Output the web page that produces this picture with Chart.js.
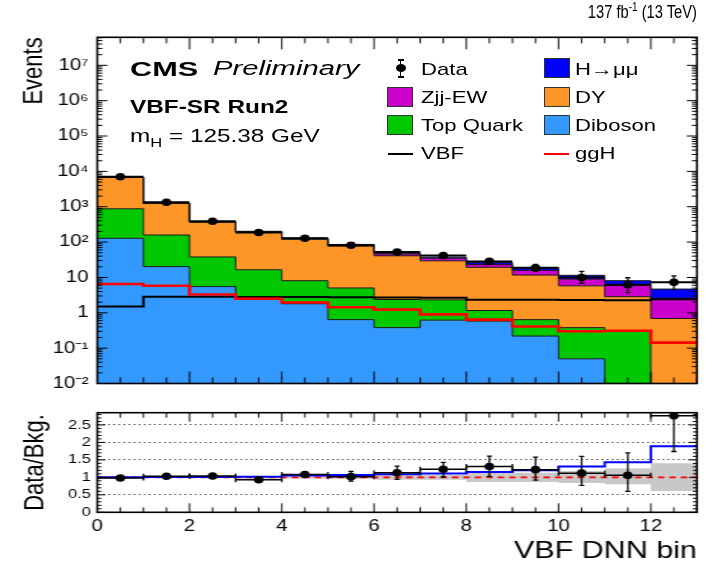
<!DOCTYPE html>
<html lang="en">
<head>
  <meta charset="UTF-8">
  <title>VBF-SR Run2 - VBF DNN bin</title>
  <script src="https://cdn.jsdelivr.net/npm/chart.js"></script>
  <style>
    body {
      margin: 0;
      width: 712px;
      height: 567px;
      overflow: hidden;
      position: relative;
      background: #fff;
      font-family: 'Liberation Sans', Arial, sans-serif;
    }
    /* the reference is drawn wide, so the charts are drawn narrow and stretched */
    #stretch {
      position: absolute;
      left: 0;
      top: 0;
      width: 560px;
      height: 567px;
      transform: scaleX(1.2714);
      transform-origin: 0 0;
    }
    #stretch canvas { position: absolute; left: 0; }
    .t {
      position: absolute;
      white-space: nowrap;
      line-height: 1;
      color: #000;
      transform-origin: 0 0;
    }
    .box {
      position: absolute;
      width: 26px;
      height: 20px;
      border: 1px solid #333;
      box-sizing: border-box;
    }
    .ln { position: absolute; height: 2px; width: 25px; }
    sup, sub { font-size: 0.68em; line-height: 0; }
  </style>
</head>
<body>
  <div id="stretch">
    <canvas id="mainChart" width="560" height="400" style="top:0;width:560px;height:400px"></canvas>
    <canvas id="ratioChart" width="560" height="167" style="top:400px;width:560px;height:167px"></canvas>
  </div>

  <div class="t" style="right:15px;top:3.5px;font-size:17.5px;transform:scaleX(0.84);transform-origin:100% 0">137 fb<sup>-1</sup> (13 TeV)</div>
  <div class="t" style="left:130px;top:57.9px;font-size:21px;font-weight:bold;transform:scaleX(1.46)">CMS</div>
  <div class="t" style="left:212.7px;top:59.2px;font-size:19.5px;font-style:italic;transform:scaleX(1.5)">Preliminary</div>
  <div class="t" style="left:130px;top:98.3px;font-size:18.6px;font-weight:bold;transform:scaleX(1.31)">VBF-SR Run2</div>
  <div class="t" style="left:130px;top:125.6px;font-size:19px;transform:scaleX(1.28)">m<sub>H</sub> = 125.38 GeV</div>

  <!-- legend -->
  <div style="position:absolute;left:400px;top:59.3px;width:1.3px;height:18px;background:#000"></div>
  <div style="position:absolute;left:397.6px;top:59.3px;width:6px;height:1.3px;background:#000"></div>
  <div style="position:absolute;left:397.6px;top:76.3px;width:6px;height:1.3px;background:#000"></div>
  <div style="position:absolute;left:395.7px;top:64.3px;width:10px;height:8px;border-radius:50%;background:#000"></div>
  <div class="t" style="left:420.7px;top:60.6px;font-size:17px;transform:scaleX(1.3)">Data</div>

  <div class="box" style="left:544.3px;top:58.3px;background:#0000ff"></div>
  <div class="t" style="left:575px;top:60.6px;font-size:17px;transform:scaleX(1.3)">H→μμ</div>

  <div class="box" style="left:387.3px;top:86.7px;background:#cc00cc"></div>
  <div class="t" style="left:420.7px;top:88.6px;font-size:17px;transform:scaleX(1.3)">Zjj-EW</div>

  <div class="box" style="left:544.3px;top:86.7px;background:#fd9627"></div>
  <div class="t" style="left:575px;top:88.6px;font-size:17px;transform:scaleX(1.3)">DY</div>

  <div class="box" style="left:387.3px;top:115px;background:#00c800"></div>
  <div class="t" style="left:420.7px;top:116.6px;font-size:17px;transform:scaleX(1.3)">Top Quark</div>

  <div class="box" style="left:544.3px;top:115px;background:#3399ff"></div>
  <div class="t" style="left:575px;top:116.6px;font-size:17px;transform:scaleX(1.3)">Diboson</div>

  <div class="ln" style="left:388px;top:152.5px;background:#000"></div>
  <div class="t" style="left:420.7px;top:144.6px;font-size:17px;transform:scaleX(1.3)">VBF</div>

  <div class="ln" style="left:544.3px;top:152.5px;background:#ff0000"></div>
  <div class="t" style="left:575px;top:144.6px;font-size:17px;transform:scaleX(1.3)">ggH</div>

  <script>
    // bins of the DNN score
    const binEdges = [0, 1, 2, 3, 4, 5, 6, 7, 8, 9, 10, 11, 12, 13];
    const binCentres = [0.5, 1.5, 2.5, 3.5, 4.5, 5.5, 6.5, 7.5, 8.5, 9.5, 10.5, 11.5, 12.5];

    // stacked backgrounds + signal, events per bin (bottom to top)
    const diboson  = [128, 20.3, 5.5, 2.7, 1.8, 0.64, 0.38, 0.62, 0.58, 0.22, 0.05, 0, 0];
    const topQuark = [747, 138, 32.5, 13.8, 6.3, 4.4, 2.0, 1.7, 0.58, 0.42, 0.33, 0.31, 0];
    const drellYan = [5925, 1072, 325, 174, 112, 72, 38.6, 27.2, 18.2, 11.0, 5.4, 2.54, 0.69];
    const zjjEW    = [40, 15, 8, 6, 5, 4.5, 5.5, 5.5, 3.8, 4.2, 3.2, 3.05, 1.9];
    const hmumu    = [8, 8.6, 6, 5.3, 4.6, 4.2, 2.0, 2.5, 3.0, 2.7, 2.5, 2.2, 2.1];

    // signal shapes drawn as lines
    const vbfSignal = [1.5, 2.85, 2.85, 2.8, 2.78, 2.75, 2.72, 2.68, 2.35, 2.35, 2.3, 2.26, 2.4];
    const gghSignal = [6.5, 5.8, 3.3, 2.5, 1.95, 1.43, 1.23, 0.9, 0.64, 0.41, 0.30, 0.31, 0.143];

    // observed data
    const dataEvents = [7080, 1340, 390, 186, 128, 81, 52, 41.5, 28.4, 18.7, 10.0, 6.2, 7.3];
    const dataLow    = [6990, 1300, 370, 172, 117, 72, 45, 35, 23.5, 14.8, 6.9, 3.7, 4.5];
    const dataHigh   = [7170, 1380, 410, 200, 139, 90, 59, 48, 34, 23.2, 14.9, 9.8, 11];

    // ratio panel
    const ratioData   = [0.98, 1.03, 1.04, 0.93, 1.08, 1.02, 1.13, 1.23, 1.31, 1.22, 1.12, 1.06, 2.76];
    const ratioLow    = [0.96, 1.01, 1.01, 0.90, 1.04, 0.89, 0.94, 1.01, 1.03, 0.92, 0.77, 0.60, 1.74];
    const ratioHigh   = [1.00, 1.05, 1.07, 0.96, 1.12, 1.17, 1.32, 1.43, 1.61, 1.58, 1.60, 1.70, 3.80];
    const ratioSignal = [1.00, 1.01, 1.01, 1.02, 1.05, 1.07, 1.09, 1.11, 1.15, 1.20, 1.31, 1.43, 1.89];
    const bandLow     = [0.98, 0.98, 0.98, 0.97, 0.97, 0.96, 0.93, 0.93, 0.87, 0.87, 0.84, 0.80, 0.61];
    const bandHigh    = [1.02, 1.02, 1.02, 1.03, 1.03, 1.04, 1.07, 1.07, 1.13, 1.13, 1.18, 1.25, 1.40];
    const unity = 1;

    // tick labels
    const yTickValues = [1e-2, 1e-1, 1, 10, 1e2, 1e3, 1e4, 1e5, 1e6, 1e7];
    const yTickLabels = ['10⁻²', '10⁻¹', '1', '10', '10²', '10³', '10⁴', '10⁵', '10⁶', '10⁷'];
    const xTickValues = [0, 2, 4, 6, 8, 10, 12];
    const xTickLabels = ['0', '2', '4', '6', '8', '10', '12'];
    const ratioTickValues = [0, 0.5, 1, 1.5, 2, 2.5];
    const ratioTickLabels = ['0', '0.5', '1', '1.5', '2', '2.5'];

    const colours = {
      diboson: '#3399ff',
      top: '#00c800',
      dy: '#fd9627',
      zjj: '#cc00cc',
      hmm: '#0000ff'
    };

    // empty bins cannot sit on a log axis, so they are drawn just under its bottom
    const logFloor = 1e-3;

    Chart.defaults.font.family = "'Liberation Sans', Arial, sans-serif";
    Chart.defaults.color = '#000';

    const stepPoints = vals => binEdges.map((x, i) => ({x, y: vals[Math.min(i, vals.length - 1)]}));
    const centrePoints = vals => binCentres.map((x, i) => ({x, y: vals[i]}));
    const addLayer = (a, b) => a.map((v, i) => v + b[i]);

    const cumTop = addLayer(diboson, topQuark);
    const cumDY = addLayer(cumTop, drellYan);
    const cumZjj = addLayer(cumDY, zjjEW);
    const cumH = addLayer(cumZjj, hmumu);

    function layer(label, vals, fill, colour, order) {
      return {
        label, fill, order,
        data: stepPoints(vals.map(v => Math.max(v, logFloor))),
        backgroundColor: colour, borderColor: '#1a1a1a', borderWidth: 1,
        stepped: true, pointRadius: 0
      };
    }

    // frame and ROOT style inward ticks on all four sides
    function frameTicks(opts) {
      return {
        id: 'frameTicks',
        afterDraw(chart) {
          const {ctx, chartArea: a, scales: {x, y}} = chart;
          ctx.save();
          ctx.strokeStyle = '#000';
          ctx.lineWidth = 1;
          ctx.beginPath();
          for (let v = 0; v <= 13; v += 0.5) {
            const px = x.getPixelForValue(v);
            const len = v % 2 === 0 ? opts.xMajor : opts.xMinor;
            ctx.moveTo(px, a.bottom); ctx.lineTo(px, a.bottom - len);
            ctx.moveTo(px, a.top); ctx.lineTo(px, a.top + len);
          }
          opts.yTicks.forEach(([v, major]) => {
            if (v < y.min || v > y.max) return;
            const py = y.getPixelForValue(v);
            const len = major ? opts.yMajor : opts.yMinor;
            ctx.moveTo(a.left, py); ctx.lineTo(a.left + len, py);
            ctx.moveTo(a.right, py); ctx.lineTo(a.right - len, py);
          });
          ctx.stroke();
          ctx.lineWidth = 1.6;
          ctx.strokeRect(a.left, a.top, a.right - a.left, a.bottom - a.top);
          ctx.restore();
        }
      };
    }

    function errorBars(vals, lo, hi, opts) {
      return {
        id: 'errorBars',
        afterDatasetsDraw(chart) {
          const {ctx, chartArea: a, scales: {x, y}} = chart;
          ctx.save();
          ctx.beginPath();
          ctx.rect(a.left, a.top, a.right - a.left, a.bottom - a.top);
          ctx.clip();
          ctx.strokeStyle = '#000';
          binCentres.forEach((c, i) => {
            const px = x.getPixelForValue(c);
            const x0 = x.getPixelForValue(binEdges[i]);
            const x1 = x.getPixelForValue(binEdges[i + 1]);
            const py = y.getPixelForValue(vals[i]);
            const pLo = y.getPixelForValue(lo[i]);
            const pHi = y.getPixelForValue(hi[i]);
            ctx.lineWidth = opts.xWidth;
            ctx.beginPath();
            ctx.moveTo(x0, py); ctx.lineTo(x1, py);
            ctx.stroke();
            ctx.lineWidth = opts.yWidth;
            ctx.beginPath();
            ctx.moveTo(px, pLo); ctx.lineTo(px, pHi);
            ctx.moveTo(px - opts.cap, pLo); ctx.lineTo(px + opts.cap, pLo);
            ctx.moveTo(px - opts.cap, pHi); ctx.lineTo(px + opts.cap, pHi);
            if (opts.xCap) {
              ctx.moveTo(x0, py - opts.xCap); ctx.lineTo(x0, py + opts.xCap);
              ctx.moveTo(x1, py - opts.xCap); ctx.lineTo(x1, py + opts.xCap);
            }
            ctx.stroke();
          });
          ctx.restore();
        }
      };
    }

    const logTicks = [];
    for (let e = -2; e <= 7; e++) {
      for (let k = 1; k <= 9; k++) logTicks.push([k * Math.pow(10, e), k === 1]);
    }
    const linTicks = [];
    for (let i = 0; i <= 28; i++) linTicks.push([i / 10, i % 5 === 0]);

    const noGrid = {display: false, drawTicks: false, tickLength: 0};

    new Chart(document.getElementById('mainChart'), {
      type: 'line',
      data: {
        datasets: [
          layer('Diboson', diboson, 'start', colours.diboson, 7),
          layer('Top Quark', cumTop, '-1', colours.top, 6),
          layer('DY', cumDY, '-1', colours.dy, 5),
          layer('Zjj-EW', cumZjj, '-1', colours.zjj, 4),
          layer('H→μμ', cumH, '-1', colours.hmm, 3),
          {label: 'VBF', data: stepPoints(vbfSignal), fill: false, stepped: true, pointRadius: 0,
           borderColor: '#000', borderWidth: 2, order: 2},
          {label: 'ggH', data: stepPoints(gghSignal), fill: false, stepped: true, pointRadius: 0,
           borderColor: '#ff0000', borderWidth: 2.6, order: 1},
          {label: 'Data', data: centrePoints(dataEvents), showLine: false, pointRadius: 3.8,
           pointBackgroundColor: '#000', pointBorderWidth: 0, order: 0, clip: 6}
        ]
      },
      options: {
        responsive: false,
        animation: false,
        devicePixelRatio: 1,
        layout: {padding: {top: 37.3, right: 11.8, left: 0, bottom: 0}},
        plugins: {
          legend: {display: false},
          tooltip: {enabled: false},
          filler: {drawTime: 'beforeDatasetsDraw'}
        },
        scales: {
          x: {
            type: 'linear', min: 0, max: 13, offset: false,
            grid: noGrid, border: {display: false},
            ticks: {display: false},
            afterFit: s => { s.height = 3.3; }
          },
          y: {
            type: 'logarithmic', min: 0.01, max: 6.2e7,
            grid: noGrid, border: {display: false},
            afterBuildTicks: s => { s.ticks = yTickValues.map(value => ({value})); },
            ticks: {font: {size: 16}, padding: 6.9, autoSkip: false,
                    callback: (v, i) => yTickLabels[i]},
            title: {display: true, text: 'Events', align: 'end', font: {size: 22},
                    padding: {top: 13.5, bottom: 0}},
            afterFit: s => { s.width = 76.5; }
          }
        }
      },
      plugins: [
        frameTicks({xMajor: 12, xMinor: 6, yMajor: 8, yMinor: 4, yTicks: logTicks}),
        errorBars(dataEvents, dataLow, dataHigh, {xWidth: 2, yWidth: 1.3, cap: 2, xCap: 0})
      ]
    });

    new Chart(document.getElementById('ratioChart'), {
      type: 'line',
      data: {
        datasets: [
          {label: 'band low', data: stepPoints(bandLow), fill: false, stepped: true, pointRadius: 0,
           borderWidth: 0, borderColor: 'rgba(0,0,0,0)', order: 4},
          {label: 'Bkg. unc.', data: stepPoints(bandHigh), fill: '-1', stepped: true, pointRadius: 0,
           backgroundColor: '#c8c8c8', borderWidth: 0, borderColor: 'rgba(0,0,0,0)', order: 3},
          {label: 'unity', data: stepPoints(binEdges.map(() => unity)), fill: false, stepped: true,
           pointRadius: 0, borderColor: '#ff0000', borderWidth: 1.6, borderDash: [5, 4], order: 2},
          {label: 'S+B / B', data: stepPoints(ratioSignal), fill: false, stepped: true, pointRadius: 0,
           borderColor: '#0000ff', borderWidth: 2, order: 1},
          {label: 'Data / Bkg.', data: centrePoints(ratioData), showLine: false, pointRadius: 3.8,
           pointBackgroundColor: '#000', pointBorderWidth: 0, order: 0, clip: 6}
        ]
      },
      options: {
        responsive: false,
        animation: false,
        devicePixelRatio: 1,
        layout: {padding: {top: 11.7, right: 11.8, left: 0, bottom: 0}},
        plugins: {
          legend: {display: false},
          tooltip: {enabled: false},
          filler: {drawTime: 'beforeDatasetsDraw'}
        },
        scales: {
          x: {
            type: 'linear', min: 0, max: 13, offset: false,
            grid: noGrid, border: {display: false},
            afterBuildTicks: s => { s.ticks = xTickValues.map(value => ({value})); },
            ticks: {font: {size: 16}, padding: 5, maxRotation: 0, autoSkip: false,
                    callback: (v, i) => xTickLabels[i]},
            title: {display: true, text: 'VBF DNN bin', align: 'end', font: {size: 24},
                    padding: {top: 0, bottom: 0.9}},
            afterFit: s => { s.height = 54.7; }
          },
          y: {
            type: 'linear', min: 0, max: 2.85,
            grid: {
              color: c => (c.tick && c.tick.value === 0) ? 'rgba(0,0,0,0)' : '#555',
              lineWidth: 1, drawTicks: false, tickLength: 0
            },
            border: {display: false, dash: [1.5, 2.5]},
            afterBuildTicks: s => { s.ticks = ratioTickValues.map(value => ({value})); },
            ticks: {font: {size: 13}, padding: 4.9, autoSkip: false,
                    callback: (v, i) => ratioTickLabels[i]},
            title: {display: true, text: 'Data/Bkg.', font: {size: 22},
                    padding: {top: 14.3, bottom: 0}},
            afterFit: s => { s.width = 76.5; }
          }
        }
      },
      plugins: [
        frameTicks({xMajor: 9, xMinor: 5, yMajor: 6.3, yMinor: 3.2, yTicks: linTicks}),
        errorBars(ratioData, ratioLow, ratioHigh, {xWidth: 1.5, yWidth: 1.3, cap: 2, xCap: 2.5})
      ]
    });
  </script>
</body>
</html>
